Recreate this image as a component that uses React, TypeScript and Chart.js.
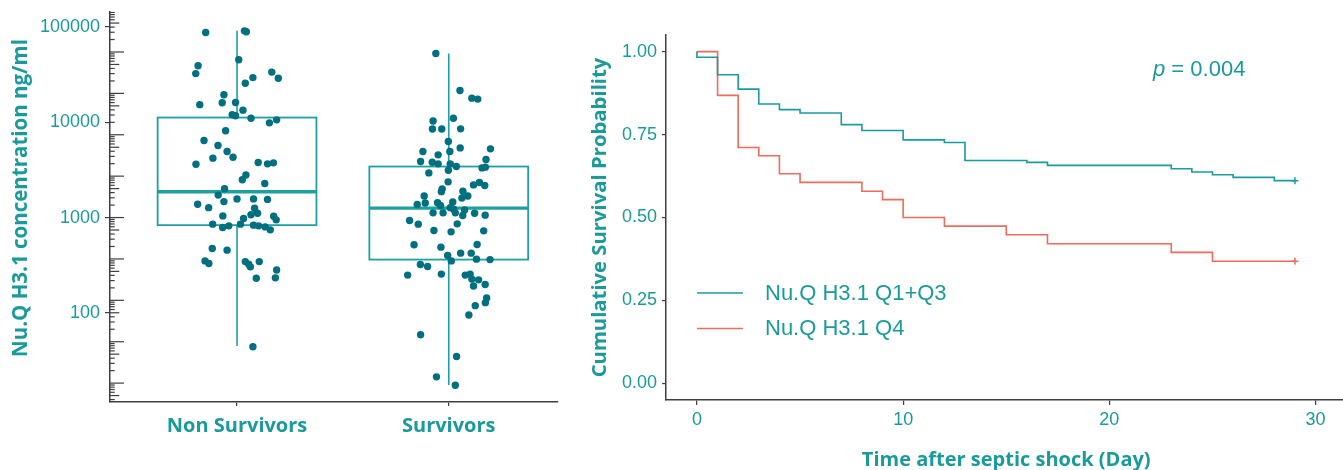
import React, { useEffect, useRef } from "react";
import { Chart, registerables } from "chart.js";

Chart.register(...registerables);

// ---------- colours ----------
const TEAL_TEXT = "#1b9a9a";
const DOT_COLOR = "#006f80";
const BOX_COLOR = "#1fa0a0";
const AXIS_COLOR = "#3f3f3f";
const TEAL_LINE = "#1a9c9c";
const RED_LINE = "#ef6b5c";

const NUM_FONT = "'Liberation Sans', Arial, Helvetica, sans-serif";
const BOLD_FONT = "'Open Sans', 'Noto Sans', sans-serif";

// ---------- left panel data ----------
const groups = ["Non Survivors", "Survivors"];
const concTickValues = [100, 1000, 10000, 100000];
const concAxisTitle = "Nu.Q H3.1 concentration ng/ml";

const boxQ1 = [832, 362];
const boxMedian = [1862, 1255];
const boxQ3 = [11200, 3430];
const whiskerLow = [45, 17.5];
const whiskerHigh = [91000, 52600];

const nonSurvivorValues = [
  87300, 91000, 88900, 39100, 45200, 32400, 29400, 33600, 29000, 25700,
  19400, 15300, 16000, 16100, 13400, 12000, 11700, 11000, 9860, 10600,
  8130, 6430, 5700, 4930, 4200, 4300, 3630, 3780, 3660, 3750,
  2800, 2490, 2280, 2010, 1720, 1470, 1570, 1570, 1550, 1380,
  1270, 1250, 1110, 1070, 1040, 977, 1030, 946, 853, 786,
  818, 853, 832, 818, 798, 743, 473, 455, 351, 329,
  345, 324, 304, 345, 282, 231, 233, 44,
];
const nonSurvivorJitter = [
  -0.148, 0.035, 0.044, -0.184, 0.008, -0.195, 0.075, 0.164, 0.195, 0.039,
  -0.062, -0.176, -0.07, -0.007, 0.028, -0.023, -0.007, 0.066, 0.153, 0.187,
  -0.054, -0.156, -0.09, -0.047, -0.114, -0.019, -0.194, 0.1, 0.144, 0.172,
  0.042, 0.025, 0.131, -0.059, -0.089, -0.062, 0.0, 0.078, 0.144, -0.186,
  -0.134, 0.083, 0.097, 0.066, -0.067, 0.031, 0.173, 0.185, -0.115, -0.068,
  -0.039, 0.016, 0.078, 0.102, 0.133, 0.157, -0.117, -0.047, -0.151, -0.133,
  0.039, 0.055, 0.063, 0.105, 0.187, 0.091, 0.181, 0.075,
];
const survivorValues = [
  52600, 21500, 17900, 17500, 10300, 11000, 8480, 8480, 8530, 6270,
  5380, 5260, 4930, 4930, 4550, 4060, 3870, 3810, 3660, 3660,
  3430, 3320, 3380, 3140, 2940, 2370, 2200, 2330, 2170, 1990,
  1870, 1890, 1680, 1680, 1600, 1370, 1420, 1430, 1340, 1460,
  1270, 1220, 1200, 1120, 1120, 1120, 1050, 1110, 1060, 930,
  853, 859, 731, 708, 725, 518, 489, 521, 423, 423,
  399, 351, 366, 362, 321, 306, 249, 255, 249, 255,
  226, 222, 198, 191, 143, 128, 119, 95, 59, 34.8, 21.3, 17.4,
];
const survivorJitter = [
  -0.061, 0.053, 0.109, 0.137, -0.074, 0.022, -0.077, -0.033, 0.056, -0.002,
  0.054, 0.197, -0.122, 0.005, -0.05, 0.176, -0.133, -0.078, -0.05, 0.007,
  0.036, 0.157, 0.173, -0.002, -0.094, -0.003, 0.117, 0.145, 0.17, -0.031,
  -0.035, 0.067, -0.116, 0.09, 0.062, -0.149, -0.111, -0.053, -0.039, 0.019,
  0.007, 0.023, 0.075, -0.074, -0.027, 0.031, 0.066, 0.122, 0.172, -0.185,
  -0.144, 0.04, -0.07, 0.011, 0.165, -0.164, -0.037, 0.134, 0.056, 0.106,
  -0.005, 0.012, 0.131, 0.195, -0.134, -0.1, -0.194, -0.035, 0.078, 0.101,
  0.109, 0.141, 0.172, 0.117, 0.179, 0.173, 0.125, 0.095, -0.133, 0.037, -0.058, 0.031,
];

// ---------- right panel data ----------
const kmLabels = ["Nu.Q H3.1 Q1+Q3", "Nu.Q H3.1 Q4"];
const lowTimes = [0, 0, 1, 2, 3, 4, 5, 7, 8, 10, 12, 13, 16, 17, 23, 24, 25, 26, 28, 29];
const lowSurvival = [1, 0.983, 0.93, 0.887, 0.842, 0.825, 0.815, 0.78, 0.762, 0.734, 0.726, 0.672, 0.666, 0.657, 0.647, 0.637, 0.629, 0.621, 0.611, 0.611];
const highTimes = [0, 1, 2, 3, 4, 5, 8, 9, 10, 12, 15, 17, 23, 25, 29];
const highSurvival = [1, 0.868, 0.711, 0.686, 0.632, 0.606, 0.579, 0.554, 0.5, 0.474, 0.448, 0.421, 0.395, 0.368, 0.368];
const dayTicks = [0, 10, 20, 30];
const probTicks = [0, 0.25, 0.5, 0.75, 1];
const pValueText = "0.004";
const kmXTitle = "Time after septic shock (Day)";
const kmYTitle = "Cumulative Survival Probability";

// ---------- plugins ----------
const boxPlugin = {
  id: "boxes",
  beforeDatasetsDraw(chart: any) {
    const { ctx } = chart;
    const xs = chart.scales.x;
    const ys = chart.scales.y;
    const half = 0.375;
    groups.forEach((_, i) => {
      const c = i + 1;
      const xc = xs.getPixelForValue(c);
      const xl = xs.getPixelForValue(c - half);
      const xr = xs.getPixelForValue(c + half);
      const yq1 = ys.getPixelForValue(boxQ1[i]);
      const yq3 = ys.getPixelForValue(boxQ3[i]);
      const ymed = ys.getPixelForValue(boxMedian[i]);
      const ylo = ys.getPixelForValue(whiskerLow[i]);
      const yhi = ys.getPixelForValue(whiskerHigh[i]);
      ctx.save();
      ctx.strokeStyle = BOX_COLOR;
      ctx.lineWidth = 1.6;
      ctx.beginPath();
      ctx.moveTo(xc, yhi);
      ctx.lineTo(xc, yq3);
      ctx.moveTo(xc, yq1);
      ctx.lineTo(xc, ylo);
      ctx.stroke();
      ctx.fillStyle = "#ffffff";
      ctx.fillRect(xl, yq3, xr - xl, yq1 - yq3);
      ctx.lineWidth = 1.8;
      ctx.strokeRect(xl, yq3, xr - xl, yq1 - yq3);
      ctx.lineWidth = 3.4;
      ctx.beginPath();
      ctx.moveTo(xl, ymed);
      ctx.lineTo(xr, ymed);
      ctx.stroke();
      ctx.restore();
    });
  },
};

// minor log ticks (annotation_logticks style, as drawn in the source)
const LOGTICK_ANCHOR = 1000;
const logTickPlugin = {
  id: "logTicks",
  afterDraw(chart: any) {
    const { ctx, chartArea } = chart;
    const ys = chart.scales.y;
    ctx.save();
    ctx.strokeStyle = AXIS_COLOR;
    ctx.lineWidth = 1.2;
    for (let n = -6; n <= 6; n++) {
      for (let k = 1; k <= 9; k++) {
        const v = LOGTICK_ANCHOR * Math.exp(n + Math.log10(k));
        const py = ys.getPixelForValue(v);
        if (py < chartArea.top - 0.5 || py > chartArea.bottom + 0.5) continue;
        const len = k === 1 ? 14 : k === 5 ? 9.3 : 4.7;
        ctx.beginPath();
        ctx.moveTo(chartArea.left, py);
        ctx.lineTo(chartArea.left + len, py);
        ctx.stroke();
      }
    }
    ctx.restore();
  },
};

// rotated y-axis title for the left panel (placed like the source, slightly above centre)
const concTitlePlugin = {
  id: "concTitle",
  afterDraw(chart: any) {
    const { ctx, chartArea } = chart;
    ctx.save();
    ctx.translate(21, (chartArea.top + chartArea.bottom) / 2 - 9);
    ctx.rotate(-Math.PI / 2);
    ctx.fillStyle = TEAL_TEXT;
    ctx.font = `bold 20.5px ${BOLD_FONT}`;
    ctx.textAlign = "center";
    ctx.textBaseline = "middle";
    ctx.fillText(concAxisTitle, 0, 0);
    ctx.restore();
  },
};

const kmAnnotPlugin = {
  id: "kmAnnot",
  afterDatasetsDraw(chart: any) {
    const { ctx, chartArea } = chart;
    ctx.save();
    const lx = chartArea.left + 31;
    const lw = 46;
    const ly0 = chartArea.top + 258;
    const gap = 35.4;
    chart.data.datasets.forEach((ds: any, i: number) => {
      const y = ly0 + i * gap;
      ctx.strokeStyle = ds.borderColor;
      ctx.lineWidth = 1.5;
      ctx.beginPath();
      ctx.moveTo(lx, y);
      ctx.lineTo(lx + lw, y);
      ctx.stroke();
      ctx.fillStyle = TEAL_TEXT;
      ctx.font = `22px ${NUM_FONT}`;
      ctx.textBaseline = "middle";
      ctx.textAlign = "left";
      ctx.fillText(ds.label, lx + lw + 22, y + 1);
    });
    const px = chartArea.left + 487;
    const py = chartArea.top + 35;
    ctx.fillStyle = TEAL_TEXT;
    ctx.textBaseline = "middle";
    ctx.font = `italic 22px ${NUM_FONT}`;
    ctx.fillText("p", px, py);
    const w = ctx.measureText("p").width;
    ctx.font = `22px ${NUM_FONT}`;
    ctx.fillText(" = " + pValueText, px + w, py);
    ctx.restore();
  },
};

function BoxChart() {
  const ref = useRef<HTMLCanvasElement>(null);
  useEffect(() => {
    const makePoints = (vals: number[], jit: number[], c: number) =>
      vals.map((v, i) => ({ x: c + jit[i], y: v }));
    const chart = new Chart(ref.current as HTMLCanvasElement, {
      type: "scatter",
      data: {
        datasets: [
          {
            label: groups[0],
            data: makePoints(nonSurvivorValues, nonSurvivorJitter, 1),
            backgroundColor: DOT_COLOR,
            borderWidth: 0,
            pointRadius: 3.7,
          },
          {
            label: groups[1],
            data: makePoints(survivorValues, survivorJitter, 2),
            backgroundColor: DOT_COLOR,
            borderWidth: 0,
            pointRadius: 3.7,
          },
        ],
      },
      options: {
        responsive: false,
        animation: false,
        devicePixelRatio: 1,
        layout: { padding: { top: 12, left: 0, right: 0, bottom: 0 } },
        plugins: { legend: { display: false }, tooltip: { enabled: false } },
        scales: {
          x: {
            type: "linear",
            min: 0.4,
            max: 2.516,
            afterBuildTicks: (s: any) => {
              s.ticks = [{ value: 1 }, { value: 2 }];
            },
            afterFit: (s: any) => {
              s.height = 68;
              s.paddingLeft = 0;
              s.paddingRight = 0;
            },
            ticks: {
              callback: (v: any) => groups[Math.round(Number(v)) - 1] ?? "",
              color: TEAL_TEXT,
              font: { family: BOLD_FONT, size: 20, weight: "bold" },
              padding: 8,
              maxRotation: 0,
            },
            grid: { drawOnChartArea: false, drawTicks: true, tickLength: 4, color: AXIS_COLOR, lineWidth: 1.2 },
            border: { display: true, color: AXIS_COLOR, width: 1.5 },
          },
          y: {
            type: "logarithmic",
            min: 11.6,
            max: 143500,
            afterBuildTicks: (s: any) => {
              s.ticks = concTickValues.map((v) => ({ value: v }));
            },
            afterFit: (s: any) => {
              s.width = 110;
              s.paddingTop = 0;
              s.paddingBottom = 0;
            },
            ticks: {
              callback: (v: any) => String(v),
              color: TEAL_TEXT,
              font: { family: NUM_FONT, size: 18 },
              padding: 5,
            },
            title: { display: false },
            grid: { drawOnChartArea: false, drawTicks: true, tickLength: 5, color: AXIS_COLOR, lineWidth: 1.2 },
            border: { display: true, color: AXIS_COLOR, width: 1.5 },
          },
        },
      } as any,
      plugins: [boxPlugin, logTickPlugin, concTitlePlugin],
    });
    return () => chart.destroy();
  }, []);
  return (
    <canvas
      ref={ref}
      width={562}
      height={470}
      style={{ position: "absolute", left: 0, top: 0, width: 562, height: 470 }}
    />
  );
}

function KMChart() {
  const ref = useRef<HTMLCanvasElement>(null);
  useEffect(() => {
    const toPts = (t: number[], s: number[]) => t.map((x, i) => ({ x, y: s[i] }));
    const lastOnly = (ctx: any) => (ctx.dataIndex === ctx.dataset.data.length - 1 ? 3.5 : 0);
    const chart = new Chart(ref.current as HTMLCanvasElement, {
      type: "line",
      data: {
        datasets: [
          {
            label: kmLabels[0],
            data: toPts(lowTimes, lowSurvival),
            borderColor: TEAL_LINE,
            backgroundColor: TEAL_LINE,
            borderWidth: 1.6,
            stepped: "before",
            pointStyle: "cross",
            pointRadius: lastOnly,
            pointBorderColor: TEAL_LINE,
            pointBorderWidth: 1.5,
            fill: false,
          },
          {
            label: kmLabels[1],
            data: toPts(highTimes, highSurvival),
            borderColor: RED_LINE,
            backgroundColor: RED_LINE,
            borderWidth: 1.6,
            stepped: "before",
            pointStyle: "cross",
            pointRadius: lastOnly,
            pointBorderColor: RED_LINE,
            pointBorderWidth: 1.5,
            fill: false,
          },
        ],
      },
      options: {
        responsive: false,
        animation: false,
        devicePixelRatio: 1,
        layout: { padding: { top: 35, left: 0, right: 0, bottom: 0 } },
        plugins: { legend: { display: false }, tooltip: { enabled: false } },
        scales: {
          x: {
            type: "linear",
            min: -1.5,
            max: 31.5,
            afterBuildTicks: (s: any) => {
              s.ticks = dayTicks.map((v) => ({ value: v }));
            },
            afterFit: (s: any) => {
              s.height = 70;
              s.paddingLeft = 0;
              s.paddingRight = 0;
            },
            ticks: {
              callback: (v: any) => String(v),
              color: TEAL_TEXT,
              font: { family: NUM_FONT, size: 18 },
              padding: 4,
              maxRotation: 0,
            },
            title: {
              display: true,
              text: kmXTitle,
              color: TEAL_TEXT,
              font: { family: BOLD_FONT, size: 20, weight: "bold", lineHeight: 1 },
              padding: { top: 0, bottom: 0 },
            },
            grid: { drawOnChartArea: false, drawTicks: true, tickLength: 5, color: AXIS_COLOR, lineWidth: 1.2 },
            border: { display: true, color: AXIS_COLOR, width: 1.5 },
          },
          y: {
            type: "linear",
            min: -0.05,
            max: 1.05,
            afterBuildTicks: (s: any) => {
              s.ticks = probTicks.map((v) => ({ value: v }));
            },
            afterFit: (s: any) => {
              s.width = 86;
              s.paddingTop = 0;
              s.paddingBottom = 0;
            },
            ticks: {
              callback: (v: any) => Number(v).toFixed(2),
              color: TEAL_TEXT,
              font: { family: NUM_FONT, size: 18 },
              padding: 5,
            },
            title: {
              display: true,
              text: kmYTitle,
              color: TEAL_TEXT,
              font: { family: BOLD_FONT, size: 20.3, weight: "bold" },
              padding: { top: 8, bottom: 0 },
            },
            grid: { drawOnChartArea: false, drawTicks: true, tickLength: 4, color: AXIS_COLOR, lineWidth: 1.2 },
            border: { display: true, color: AXIS_COLOR, width: 1.5 },
          },
        },
      } as any,
      plugins: [kmAnnotPlugin],
    });
    return () => chart.destroy();
  }, []);
  return (
    <canvas
      ref={ref}
      width={772}
      height={470}
      style={{ position: "absolute", left: 580, top: 0, width: 772, height: 470 }}
    />
  );
}

export default function App() {
  return (
    <div
      style={{
        position: "absolute",
        left: 0,
        top: 0,
        width: 1343,
        height: 470,
        overflow: "hidden",
        background: "#ffffff",
      }}
    >
      <BoxChart />
      <KMChart />
    </div>
  );
}
